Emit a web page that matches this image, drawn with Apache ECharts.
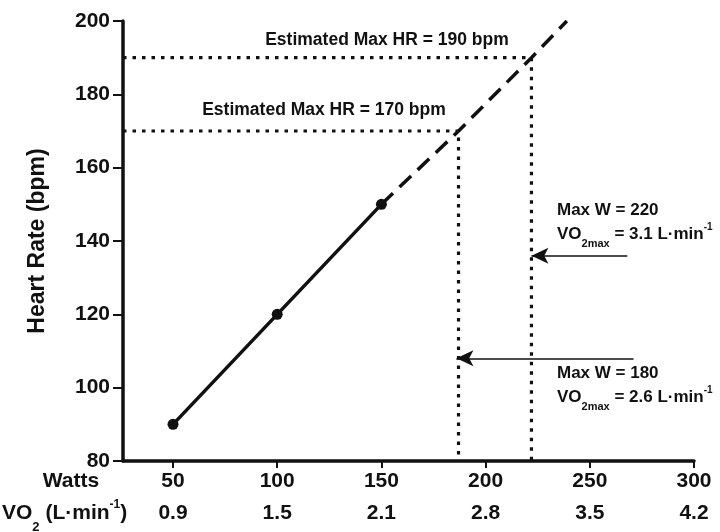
<!DOCTYPE html>
<html><head><meta charset="utf-8">
<script src="https://cdn.jsdelivr.net/npm/echarts@6/dist/echarts.min.js"></script>
<style>html,body{margin:0;padding:0;background:#fff}#c{width:720px;height:532px}</style>
</head><body><div id="c"></div>
<script>
// ---- data ----
const wattTicks = [50, 100, 150, 200, 250, 300];
const vo2TickLabels = ['0.9', '1.5', '2.1', '2.8', '3.5', '4.2'];
const measuredWatts = [50, 100, 150];
const measuredHR = [90, 120, 150];
const projectedWatts = [150, 187, 222, 239];
const projectedHR = [150, 170, 190, 200];
const maxHRValues = [170, 190];
const maxHRWatts = [187, 222];
const arrowHR = [108, 136];
const arrowFromWatts = [271, 268];
const arrowToWatts = [186, 222];

const X_MIN = 26, X_MAX = 300, Y_MIN = 80, Y_MAX = 200;
const FAM = '"Liberation Sans", Arial, Helvetica, sans-serif';
const INK = '#111';

const ctx = document.createElement('canvas').getContext('2d');
function tw(t, size) { ctx.font = 'bold ' + size + 'px ' + FAM; return ctx.measureText(t).width; }
function frag(x, y, parts) {
  const els = []; let cx = x;
  parts.forEach(([t, size, dy]) => {
    els.push({ type: 'text', x: cx, y: y + dy, silent: true,
      style: { text: t, font: 'bold ' + size + 'px ' + FAM, fill: INK,
        align: 'left', verticalAlign: 'middle', textAlign: 'left', textVerticalAlign: 'middle' } });
    cx += tw(t, size);
  });
  return els;
}
function ctext(x, y, t, size) {
  return { type: 'text', x: x, y: y, silent: true,
    style: { text: t, font: 'bold ' + size + 'px ' + FAM, fill: INK,
      align: 'center', verticalAlign: 'middle', textAlign: 'center', textVerticalAlign: 'middle' } };
}

const series = [];
series.push({
  type: 'line', data: measuredWatts.map((w, i) => [w, measuredHR[i]]),
  symbol: 'circle', symbolSize: 11, itemStyle: { color: INK },
  lineStyle: { color: INK, width: 3.5 }, z: 5
});
series.push({
  type: 'line', data: projectedWatts.map((w, i) => [w, projectedHR[i]]),
  symbol: 'none', lineStyle: { color: INK, width: 3.5, type: [16, 9], cap: 'butt' }, z: 4
});
maxHRValues.forEach((hr, i) => {
  series.push({
    type: 'line', data: [[X_MIN, hr], [maxHRWatts[i], hr], [maxHRWatts[i], Y_MIN]],
    symbol: 'none', lineStyle: { color: INK, width: 3.2, type: [3.5, 6], cap: 'butt' }, z: 3
  });
});
series.push({
  type: 'line', data: [], symbol: 'none',
  markLine: {
    silent: true, animation: false, symbol: ['none', 'arrow'], symbolSize: [12, 17],
    label: { show: false },
    lineStyle: { color: INK, width: 1.6, type: 'solid' },
    data: arrowHR.map((hr, i) => [{ coord: [arrowFromWatts[i], hr] }, { coord: [arrowToWatts[i], hr] }])
  }
});

const graphic = [].concat(
  [ctext(387, 40, 'Estimated Max HR = 190 bpm', 17.5),
   ctext(324, 110, 'Estimated Max HR = 170 bpm', 17.5),
   ctext(71, 481, 'Watts', 21)],
  frag(557, 210, [['Max W = 220', 17, 0]]),
  frag(557, 234, [['VO', 17, 0], ['2max', 11, 10], [' = 3.1 L·min', 17, 0], ['-1', 10, -7]]),
  frag(557, 373, [['Max W = 180', 17, 0]]),
  frag(557, 397, [['VO', 17, 0], ['2max', 11, 10], [' = 2.6 L·min', 17, 0], ['-1', 10, -7]]),
  frag(2, 513, [['VO', 21, 0], ['2', 13, 14], [' (L·min', 21, 0], ['-1', 12, -8], [')', 21, 0]])
);

const chart = echarts.init(document.getElementById('c'), null, { renderer: 'canvas' });
chart.setOption({
  animation: false,
  backgroundColor: '#fff',
  grid: { left: 123, right: 26, top: 21, bottom: 71, containLabel: false, outerBoundsMode: 'none' },
  xAxis: [{
    type: 'value', min: X_MIN, max: X_MAX, position: 'bottom',
    axisLine: { show: true, onZero: false, lineStyle: { color: INK, width: 3.5 } },
    axisTick: { show: true, customValues: wattTicks, length: 7, lineStyle: { color: INK, width: 2 } },
    axisLabel: { customValues: wattTicks, margin: 10, color: INK, fontSize: 21, fontWeight: 'bold', fontFamily: FAM, lineHeight: 20 },
    splitLine: { show: false }
  }, {
    type: 'value', min: X_MIN, max: X_MAX, position: 'bottom', offset: 32,
    axisLine: { show: false }, axisTick: { show: false },
    axisLabel: { customValues: wattTicks, margin: 10, color: INK, fontSize: 21, fontWeight: 'bold', fontFamily: FAM, lineHeight: 20,
      formatter: v => vo2TickLabels[wattTicks.indexOf(v)] },
    splitLine: { show: false }
  }],
  yAxis: {
    type: 'value', min: Y_MIN, max: Y_MAX, interval: 20,
    name: 'Heart Rate (bpm)', nameLocation: 'middle', nameRotate: 90, nameGap: 74,
    nameTextStyle: { color: INK, fontSize: 23, fontWeight: 'bold', fontFamily: FAM },
    axisLine: { show: true, lineStyle: { color: INK, width: 3.5 } },
    axisTick: { show: true, length: 10, lineStyle: { color: INK, width: 2 } },
    axisLabel: { margin: 13, color: INK, fontSize: 21, fontWeight: 'bold', fontFamily: FAM },
    splitLine: { show: false }
  },
  series: series,
  graphic: graphic
});
</script></body></html>
